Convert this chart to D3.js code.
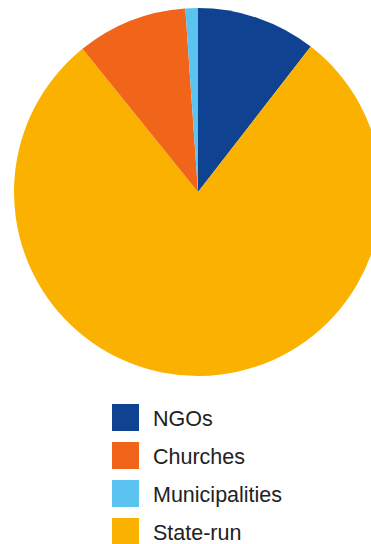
<!DOCTYPE html>
<html><head><meta charset="utf-8">
<script src="https://cdn.jsdelivr.net/npm/d3@7"></script>
<style>html,body{margin:0;padding:0;background:#fff;overflow:hidden}</style>
</head><body>
<svg id="c" width="371" height="544"></svg>
<script>
const categories = ["NGOs", "State-run", "Churches", "Municipalities"];
const values = [10.5, 78.7, 9.7, 1.1];
const colors = ["#0F4392", "#FBB100", "#F1651A", "#5BC3EF"];
const legendOrder = ["NGOs", "Churches", "Municipalities", "State-run"];

const svg = d3.select("#c");
const cx = 198, cy = 192, r = 184;
const color = d3.scaleOrdinal().domain(categories).range(colors);
const data = categories.map((c, i) => ({cat: c, val: values[i]}));
const pie = d3.pie().value(d => d.val).sort(null);
const arc = d3.arc().innerRadius(0).outerRadius(r);
svg.append("g").attr("transform", `translate(${cx},${cy})`)
  .selectAll("path").data(pie(data)).join("path")
  .attr("d", arc).attr("fill", d => color(d.data.cat));

const y = d3.scaleBand().domain(legendOrder).range([404, 404 + 38 * 4]).paddingInner(0);
const lg = svg.append("g").selectAll("g").data(legendOrder).join("g")
  .attr("transform", d => `translate(112,${y(d)})`);
lg.append("rect").attr("width", 27).attr("height", 27).attr("fill", d => color(d));
lg.append("text").attr("x", 41).attr("y", 22)
  .attr("font-family", "Liberation Sans, Arial, sans-serif").attr("font-size", 21.5)
  .attr("fill", "#222").text(d => d);
</script>
</body></html>
